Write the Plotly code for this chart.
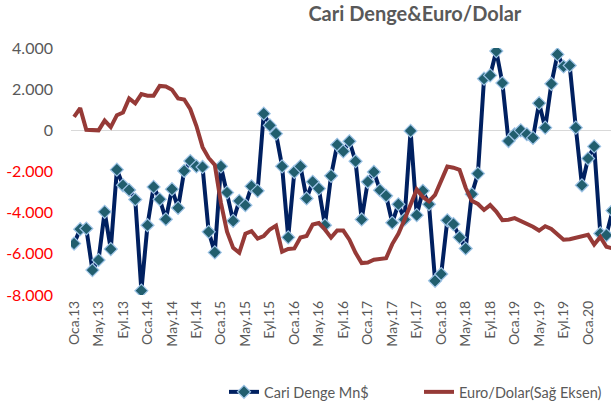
import plotly.graph_objects as go

# Monthly observations, Oca.13 (index 0) through May.20 (index 88)
month_index = list(range(89))

# Current account balance, million USD
cari_denge = [
    -5500, -4800, -4770, -6790, -6300, -3960, -5770, -1910, -2670, -2900, -3360, -7790,
    -4610, -2750, -3350, -4320, -2860, -3770, -1970, -1490, -1750, -1780, -4930, -5930,
    -1750, -3020, -4400, -3430, -3640, -2720, -2940, 810, 240, -160, -1750, -5200,
    -2020, -1750, -3310, -2500, -2830, -4610, -2210, -700, -1020, -530, -1500, -4330,
    -2500, -2020, -2910, -3180, -4490, -3590, -4330, -30, -4120, -2940, -3590, -7310,
    -6980, -4370, -4560, -5200, -5740, -3100, -2100, 2510, 2670, 3850, 2300, -520,
    -190, 0, -190, -370, 1320, 130, 2260, 3690, 3100, 3150, 130, -2670,
    -1370, -780, -5010, -5090, -3900,
]

# EUR/USD exchange rate (secondary axis)
euro_dolar = [
    1.323, 1.339, 1.299, 1.298, 1.298, 1.316, 1.304, 1.326, 1.331, 1.357, 1.348, 1.365,
    1.362, 1.362, 1.380, 1.379, 1.373, 1.357, 1.355, 1.337, 1.306, 1.267, 1.247, 1.234,
    1.164, 1.111, 1.081, 1.072, 1.107, 1.112, 1.098, 1.103, 1.115, 1.122, 1.074, 1.079,
    1.080, 1.100, 1.103, 1.124, 1.127, 1.115, 1.100, 1.113, 1.113, 1.096, 1.072, 1.053,
    1.054, 1.059, 1.061, 1.062, 1.088, 1.107, 1.133, 1.162, 1.189, 1.175, 1.167, 1.179,
    1.207, 1.231, 1.229, 1.225, 1.192, 1.168, 1.162, 1.151, 1.160, 1.148, 1.132, 1.133,
    1.136, 1.131, 1.127, 1.120, 1.113, 1.121, 1.116, 1.105, 1.096, 1.097, 1.100, 1.102,
    1.105, 1.087, 1.101, 1.083, 1.080,
]

# Category labels every four months
x_tick_labels = [
    "Oca.13", "May.13", "Eyl.13", "Oca.14", "May.14", "Eyl.14", "Oca.15", "May.15",
    "Eyl.15", "Oca.16", "May.16", "Eyl.16", "Oca.17", "May.17", "Eyl.17", "Oca.18",
    "May.18", "Eyl.18", "Oca.19", "May.19", "Eyl.19", "Oca.20", "May.20",
]
x_tick_positions = list(range(0, 89, 4))

y_tick_values = [4000, 2000, 0, -2000, -4000, -6000, -8000]
y_tick_labels = ["4.000", "2.000", "0", "-2.000", "-4.000", "-6.000", "-8.000"]

GREY = "#595959"
RED_TEXT = "#ff0000"

# negative values of the left axis are printed in red
y_tick_text = [
    lab if val >= 0 else f'<span style="color:{RED_TEXT}">{lab}</span>'
    for val, lab in zip(y_tick_values, y_tick_labels)
]

FONT = "Lato"

fig = go.Figure()

fig.add_trace(go.Scatter(
    x=month_index, y=cari_denge, name="Cari Denge Mn$",
    mode="lines+markers",
    line=dict(color="#002060", width=4),
    marker=dict(symbol="diamond", size=10, color="#215e6e",
                line=dict(color="#9dc3e6", width=1.2)),
    yaxis="y",
))

fig.add_trace(go.Scatter(
    x=month_index, y=euro_dolar, name="Euro/Dolar(Sağ Eksen)",
    mode="lines",
    line=dict(color="#963a37", width=4),
    yaxis="y2",
))

fig.update_layout(
    width=611, height=407,
    margin=dict(l=71, r=0, t=48, b=112, autoexpand=False),
    paper_bgcolor="white", plot_bgcolor="white",
    font=dict(family=FONT, color=GREY, size=15),
    title=dict(text="<b>Cari Denge&Euro/Dolar</b>", x=0.679, xref="container",
               xanchor="center", y=0.965, yref="container", yanchor="middle",
               font=dict(family=FONT, size=20, color=GREY)),
    xaxis=dict(
        range=[-0.5, 87.75],
        tickmode="array", tickvals=x_tick_positions, ticktext=x_tick_labels,
        tickangle=-90, showgrid=False, zeroline=False, showline=False,
        ticks="", tickfont=dict(size=14, color=GREY), ticklabelstandoff=2,
    ),
    yaxis=dict(
        range=[-8000, 4000],
        tickmode="array", tickvals=y_tick_values, ticktext=y_tick_text,
        showgrid=False, zeroline=True, zerolinecolor="#d9d9d9", zerolinewidth=1,
        showline=False, ticks="", tickfont=dict(size=16, color=GREY),
        ticklabelstandoff=17,
    ),
    yaxis2=dict(
        range=[0.994, 1.450], overlaying="y", side="right",
        showgrid=False, zeroline=False, showticklabels=False, showline=False,
    ),
    legend=dict(
        orientation="h", xref="container", x=0.3666, xanchor="left",
        yref="container", y=0.037, yanchor="middle",
        font=dict(size=14.5, color=GREY), bgcolor="rgba(0,0,0,0)",
        entrywidth=150, entrywidthmode="pixels", itemwidth=30,
    ),
    showlegend=True,
)

fig.write_html("out.html")
